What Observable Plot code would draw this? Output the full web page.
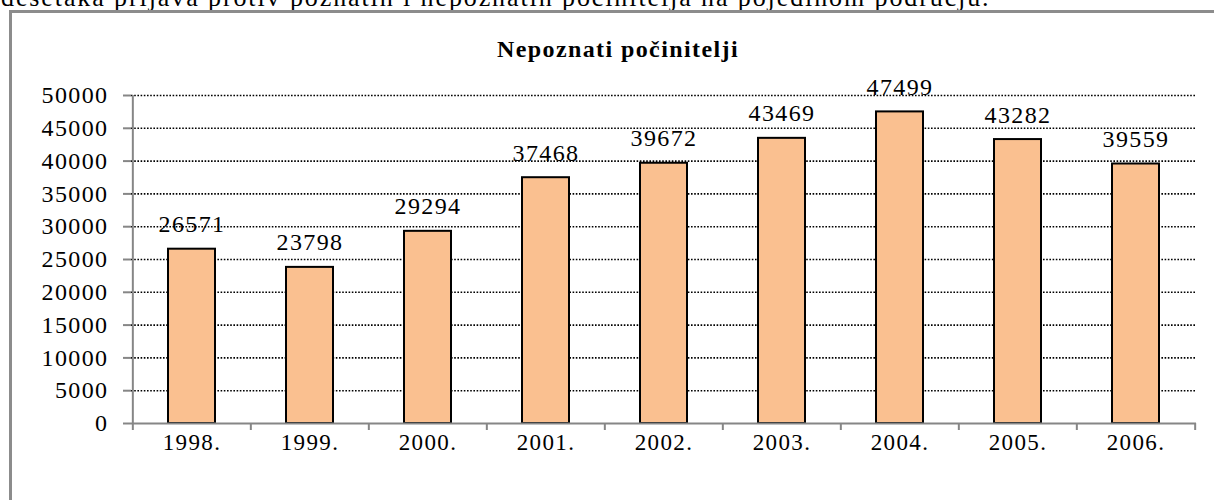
<!DOCTYPE html>
<html>
<head>
<meta charset="utf-8">
<script src="https://cdn.jsdelivr.net/npm/d3@7"></script>
<script src="https://cdn.jsdelivr.net/npm/@observablehq/plot@0.6"></script>
<style>
  html, body { margin: 0; padding: 0; background: #fff; }
  body { width: 1214px; height: 500px; overflow: hidden; position: relative; font-family: "Liberation Serif", "Times New Roman", serif; color: #000; }
  #intro { position: absolute; top: -15px; left: 1px; font-size: 26px; line-height: 26px; white-space: nowrap; letter-spacing: 1.9px; }
  #frame { position: absolute; left: 9px; top: 10px; width: 1260px; height: 600px; border: 3px solid #8c8c8c; box-sizing: border-box; }
  #title { position: absolute; top: 35px; left: 0; width: 1236px; text-align: center; font-size: 24px; font-weight: bold; letter-spacing: 1.4px; line-height: 28px; }
  #chart { position: absolute; left: 0; top: 0; }
</style>
</head>
<body>
<div id="intro">desetaka prijava protiv poznatih i nepoznatih počinitelja na pojedinom području.</div>
<div id="frame"></div>
<div id="chart"></div>
<div id="title">Nepoznati počinitelji</div>
<script>
const years = ["1998.", "1999.", "2000.", "2001.", "2002.", "2003.", "2004.", "2005.", "2006."];
const values = [26571, 23798, 29294, 37468, 39672, 43469, 47499, 43282, 39559];
const yTicks = [0, 5000, 10000, 15000, 20000, 25000, 30000, 35000, 40000, 45000, 50000];

const data = years.map((y, i) => ({year: y, value: values[i]}));

const W = 1214, H = 500;
const mL = 131, mR = 18, mT = 95, mB = 77;
const step = (W - mL - mR) / years.length;
const axisGray = "#868686";
const font = "Liberation Serif";

const chart = Plot.plot({
  width: W,
  height: H,
  marginLeft: mL,
  marginRight: mR,
  marginTop: mT,
  marginBottom: mB,
  style: {fontFamily: font, fontSize: "23px", background: "transparent", color: "#000", letterSpacing: "1.4px"},
  x: {domain: years, paddingInner: 0.6, paddingOuter: 0.3, label: null},
  y: {domain: [0, 50000], label: null},
  marks: [
    Plot.gridY({ticks: yTicks.filter(d => d > 0), stroke: "#000", strokeOpacity: 1, strokeWidth: 1.6, strokeDasharray: "1.6,1.6"}),
    Plot.barY(data, {x: "year", y: "value", fill: "#FAC090", stroke: "#000", strokeWidth: 2}),
    Plot.ruleY([0], {stroke: axisGray, strokeWidth: 2}),
    Plot.ruleX([years[0]], {y1: 0, y2: 50000, dx: -step / 2, stroke: axisGray, strokeWidth: 2}),
    Plot.axisY({ticks: yTicks, tickSize: 8, tickPadding: 15, tickFormat: d => String(d), stroke: axisGray, strokeWidth: 2, fontSize: 24, fill: "#000"}),
    Plot.axisX({tickSize: 7, tickFormat: () => "", dx: -step / 2, stroke: axisGray, strokeWidth: 2}),
    Plot.axisX({ticks: [years[years.length - 1]], tickSize: 7, tickFormat: () => "", dx: step / 2, stroke: axisGray, strokeWidth: 2}),
    Plot.axisX({tickSize: 0, tickPadding: 10, fontSize: 23, fill: "#000"}),
    Plot.text(data, {x: "year", y: "value", text: d => String(d.value), lineAnchor: "bottom", dy: -17, fontSize: 24, fill: "#000"})
  ]
});
document.getElementById("chart").appendChild(chart);
</script>
</body>
</html>
